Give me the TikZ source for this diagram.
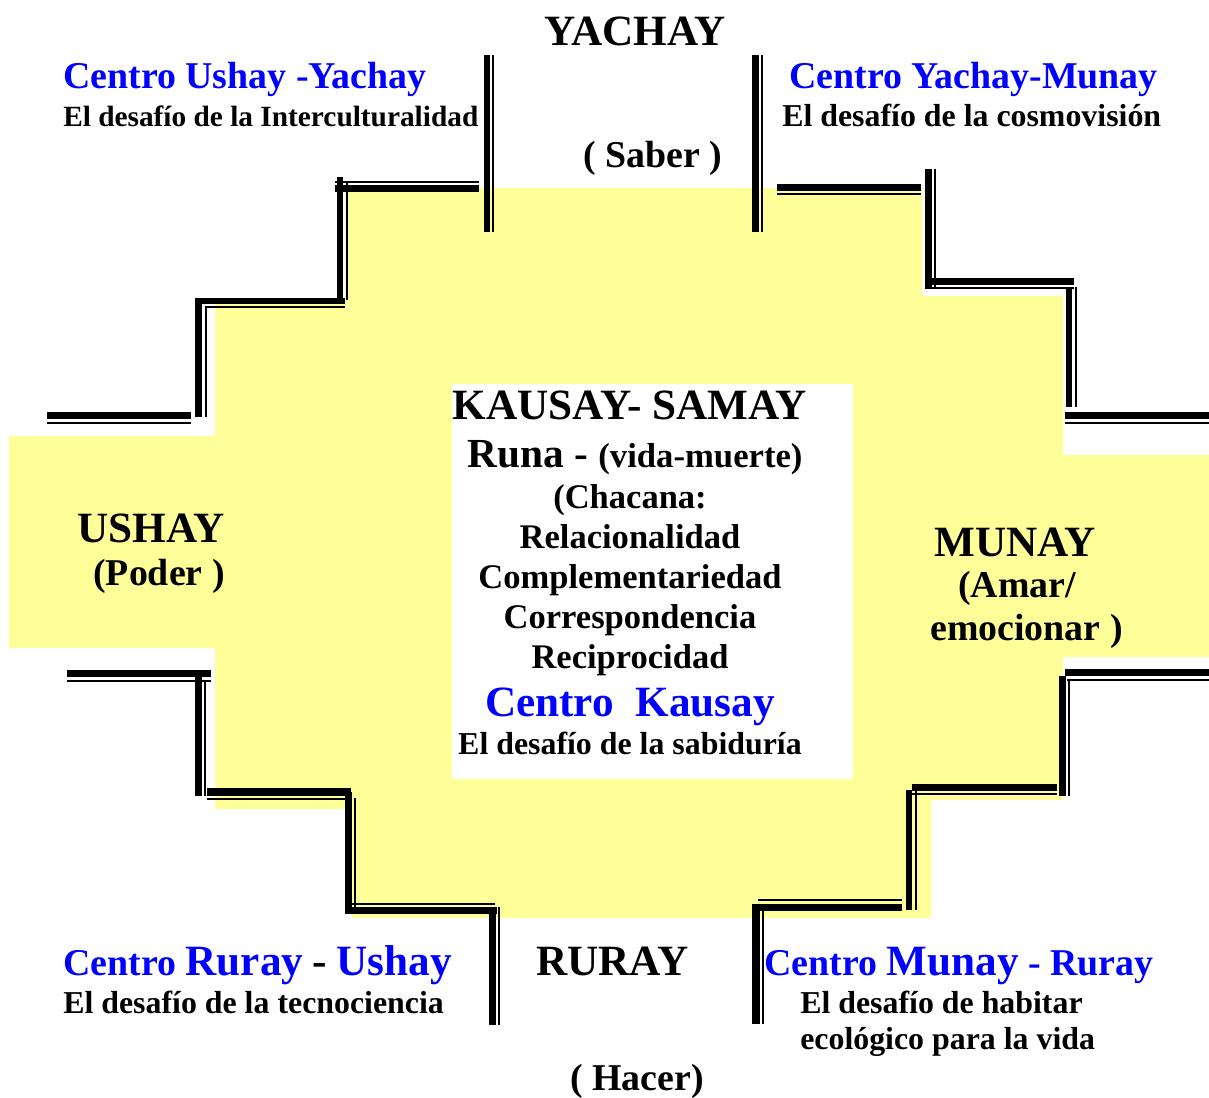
\documentclass[tikz,border=0pt]{standalone}
\usepackage{fontspec}
\setmainfont{Liberation Serif}
\usetikzlibrary{positioning}
\definecolor{chyellow}{RGB}{255,255,153}
\definecolor{chblue}{RGB}{0,0,255}
\newcommand{\bigsz}{\fontsize{32.4}{37}\selectfont}
\newcommand{\midsz}{\fontsize{28.4}{33}\selectfont}
\newcommand{\listsz}{\fontsize{25.9}{30}\selectfont}
\newcommand{\subsz}{\fontsize{23.9}{28}\selectfont}

\begin{document}
\begin{tikzpicture}[x=0.75pt, y=-0.75pt,
    txtbig/.style={inner sep=0pt, font=\bfseries\bigsz},
    txtmid/.style={inner sep=0pt, font=\bfseries\midsz},
    txtlist/.style={inner sep=0pt, font=\bfseries\listsz},
    txtsub/.style={inner sep=0pt, font=\bfseries\subsz},
    centro/.style={txtmid, text=chblue}]
    \useasboundingbox (0,0) rectangle (1209,1097);
    %
    \fill[chyellow] (345,188) -- (922,188) -- (922,296) -- (1063,296) -- (1063,455)
        -- (1209,455) -- (1209,657) -- (1063,657) -- (1063,800) -- (931,800)
        -- (931,918) -- (352,918) -- (352,809) -- (215,809) -- (215,648)
        -- (9,648) -- (9,436) -- (215,436) -- (215,302) -- (345,302) -- cycle;
    \fill[white] (452,384) rectangle (853,779);
    %
    % thick strokes
    \foreach \xa/\ya/\xb/\yb in {484/55/490/232, 752/55/759/232, 335/185/479/192,
        337/177/343/300, 195/298/345/304, 195/298/202/417, 47/412/191/419,
        777/184/921/191, 925/169/932/289, 932/278/1074/285, 1066/287/1072/407,
        1065/412/1209/419, 67/670/211/677, 195/670/202/796, 207/788/351/796,
        345/792/352/910, 345/907/497/914, 489/907/496/1025, 752/904/760/1024,
        758/904/902/911, 906/790/912/910, 912/784/1057/791, 1059/676/1066/796,
        1065/669/1209/676}
        \fill (\xa,\ya) rectangle (\xb,\yb);
    % thin strokes
    \foreach \xa/\ya/\xb/\yb in {492/55/494/232, 761/55/763/232, 335/181/479/183,
        346/181/348/300, 205/306/345/308, 205/306/207/417, 47/422/191/424,
        777/193/921/195, 934/169/936/289, 925/287/1074/289, 1075/287/1077/407,
        1065/422/1209/424, 67/680/211/682, 204/680/206/796, 207/798/351/800,
        354/798/356/910, 352/903/495/905, 498/907/500/1025, 762/904/764/1024,
        758/899/902/901, 915/790/917/910, 912/793/1057/795, 1068/680/1070/796,
        1067/679/1209/681}
        \fill (\xa,\ya) rectangle (\xb,\yb);
    %
    \node[txtbig, anchor=base] (yachay) at (635,45) {YACHAY};
    \node[txtmid, anchor=base west] (saber) at (583,167) {( Saber )};
    \node[centro, anchor=base west] (cuy) at (63,88) {Centro Ushay -Yachay};
    \node[inner sep=0pt, font=\bfseries\fontsize{22}{26}\selectfont, anchor=base west] (duy) at (63,126) {El desafío de la Interculturalidad};
    \node[centro, anchor=base west] (cym) at (789,88) {Centro Yachay-Munay};
    \node[txtsub, anchor=base west] (dym) at (782,126) {El desafío de la cosmovisión};
    %
    \node[txtbig, anchor=base west] (ushay) at (77,542) {USHAY};
    \node[txtmid, anchor=base west] (poder) at (93,585) {(Poder )};
    \node[txtbig, anchor=base west] (munay) at (934,556) {MUNAY};
    \node[txtmid, anchor=base west] (amar) at (958,597) {(Amar/};
    \node[txtmid, anchor=base west] (emoc) at (930,640) {emocionar )};
    %
    \node[txtbig, anchor=base] (kausay) at (630,419) {KAUSAY- SAMAY};
    \node[txtbig, anchor=base] (runa) at (635,467) {\fontsize{31}{36}\selectfont Runa - {\fontsize{26}{30}\selectfont(vida-muerte)}};
    \node[txtlist, anchor=base] (chacana) at (630,508) {(Chacana:};
    \node[txtlist, anchor=base] (rel) at (630,548) {Relacionalidad};
    \node[txtlist, anchor=base] (comp) at (630,588) {Complementariedad};
    \node[txtlist, anchor=base] (corr) at (630,628) {Correspondencia};
    \node[txtlist, anchor=base] (reci) at (630,668) {Reciprocidad};
    \node[txtbig, text=chblue, anchor=base] (ck) at (630,716) {Centro\ \ Kausay};
    \node[txtsub, anchor=base] (dk) at (630,754) {El desafío de la sabiduría};
    %
    \node[txtbig, anchor=base west] (ruray) at (536,975) {RURAY};
    \node[txtmid, anchor=base west] (hacer) at (570,1090) {( Hacer)};
    \node[centro, anchor=base west] (cru) at (63,975) {Centro {\bigsz Ruray} \textcolor{black}{\bigsz -} {\bigsz Ushay}};
    \node[txtsub, anchor=base west] (dru) at (63,1013) {El desafío de la tecnociencia};
    \node[centro, anchor=base west] (cmr) at (764,975) {Centro {\bigsz Munay} - Ruray};
    \node[txtsub, anchor=base west] (dmr) at (800,1013) {El desafío de habitar};
    \node[txtsub, anchor=base west] (dmr2) at (800,1049) {ecológico para la vida};
\end{tikzpicture}
\end{document}
